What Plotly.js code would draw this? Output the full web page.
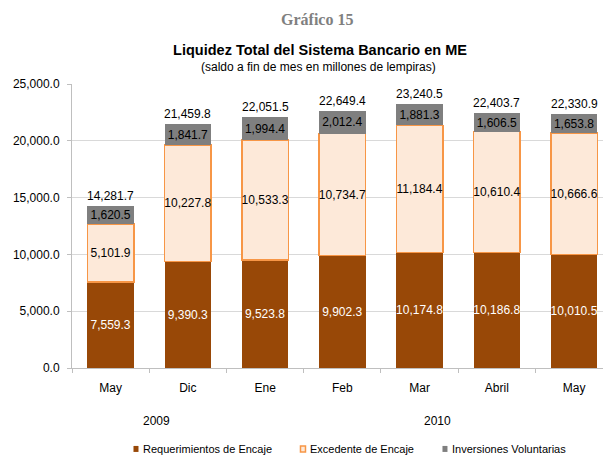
<!DOCTYPE html>
<html>
<head>
<meta charset="utf-8">
<script src="https://cdn.plot.ly/plotly-3.0.1.min.js"></script>
<style>html,body{margin:0;padding:0;background:#fff;}#chart{width:603px;height:456px;}</style>
</head>
<body>
<div id="chart"></div>
<script>
const categories = ['May', 'Dic', 'Ene', 'Feb', 'Mar', 'Abril', 'May'];
const categoryKeys = ['May 2009', 'Dic 2009', 'Ene 2010', 'Feb 2010', 'Mar 2010', 'Abril 2010', 'May 2010'];
const seriesNames = ['Requerimientos de Encaje', 'Excedente de Encaje', 'Inversiones Voluntarias'];
const requerimientos = [7559.3, 9390.3, 9523.8, 9902.3, 10174.8, 10186.8, 10010.5];
const excedente = [5101.9, 10227.8, 10533.3, 10734.7, 11184.4, 10610.4, 10666.6];
const inversiones = [1620.5, 1841.7, 1994.4, 2012.4, 1881.3, 1606.5, 1653.8];
const totals = [14281.7, 21459.8, 22051.5, 22649.4, 23240.5, 22403.7, 22330.9];
const yearLabels = ['2009', '2010'];
const yTicks = [0, 5000, 10000, 15000, 20000, 25000];

const FONT = 'Liberation Sans, Arial, sans-serif';
const common = {
  type: 'bar',
  x: categoryKeys,
  textposition: 'inside',
  insidetextanchor: 'middle',
  constraintext: 'none',
  textangle: 0,
  texttemplate: '%{y:,.1f}',
  hoverinfo: 'skip',
  showlegend: false
};

const traces = [
  Object.assign({}, common, {
    y: requerimientos, name: seriesNames[0],
    marker: {color: '#984807', line: {width: 0}},
    textfont: {family: FONT, size: 12, color: '#ffffff'}
  }),
  Object.assign({}, common, {
    y: excedente, name: seriesNames[1],
    marker: {color: '#FDE9D9', line: {width: 1.5, color: '#F79646'}},
    textfont: {family: FONT, size: 12, color: '#000000'}
  }),
  Object.assign({}, common, {
    y: inversiones, name: seriesNames[2],
    marker: {color: '#7F7F7F', line: {width: 0}},
    textfont: {family: FONT, size: 12, color: '#000000'}
  })
];

const annotations = [];
categoryKeys.forEach((k, i) => {
  annotations.push({
    x: k, y: totals[i], xref: 'x', yref: 'y',
    text: totals[i].toLocaleString('en-US', {minimumFractionDigits: 1, maximumFractionDigits: 1}),
    showarrow: false, yanchor: 'bottom', yshift: 1,
    font: {family: FONT, size: 12, color: '#000'}
  });
});
annotations.push(
  {xref: 'paper', yref: 'paper', x: 0.4623, y: 1.2254, text: '<b>Gráfico 15</b>', showarrow: false,
   xanchor: 'center', yanchor: 'middle', font: {family: 'Liberation Serif, Times New Roman, serif', size: 16, color: '#808080'}},
  {xref: 'paper', yref: 'paper', x: 0.4633, y: 1.0599, text: '(saldo a fin de mes en millones de lempiras)', showarrow: false,
   xanchor: 'center', yanchor: 'middle', font: {family: FONT, size: 12, color: '#000'}},
  {xref: 'paper', yref: 'paper', x: 0.160, y: -0.1866, text: yearLabels[0], showarrow: false,
   xanchor: 'center', yanchor: 'middle', font: {family: FONT, size: 12, color: '#000'}},
  {xref: 'paper', yref: 'paper', x: 0.689, y: -0.1866, text: yearLabels[1], showarrow: false,
   xanchor: 'center', yanchor: 'middle', font: {family: FONT, size: 12, color: '#000'}}
);

const legendTextX = [0.1299, 0.4444, 0.7119];
const legendSqX = [0.1205, 0.4350, 0.7024];
const legendY = -0.285;
const shapes = [];
const sqStyles = [
  {fillcolor: '#984807', line: {width: 0}},
  {fillcolor: '#FDE9D9', line: {width: 1.5, color: '#F79646'}},
  {fillcolor: '#7F7F7F', line: {width: 0}}
];
seriesNames.forEach((n, i) => {
  annotations.push({xref: 'paper', yref: 'paper', x: legendTextX[i], y: legendY, text: n, showarrow: false,
    xanchor: 'left', yanchor: 'middle', font: {family: FONT, size: 11, color: '#000'}});
  shapes.push(Object.assign({type: 'rect', xref: 'paper', yref: 'paper',
    xsizemode: 'pixel', ysizemode: 'pixel', xanchor: legendSqX[i], yanchor: legendY,
    x0: -2.5, x1: 2.5, y0: -3, y1: 3}, sqStyles[i]));
});

const layout = {
  width: 603, height: 456,
  margin: {l: 72, r: 0, t: 84, b: 88},
  paper_bgcolor: '#fff', plot_bgcolor: '#fff',
  barmode: 'stack', bargap: 0.4,
  font: {family: FONT, size: 12, color: '#000'},
  title: {text: '<b>Liquidez Total del Sistema Bancario en ME</b>', xref: 'container', x: 0.5307, xanchor: 'center',
          yref: 'container', y: 1 - 49.5 / 456, yanchor: 'middle', font: {family: FONT, size: 14.5, color: '#000'}},
  xaxis: {
    type: 'category', range: [-0.5, 6.374],
    tickmode: 'array', tickvals: categoryKeys, ticktext: categories,
    tickson: 'boundaries', ticks: 'outside', ticklen: 4, tickcolor: '#BFBFBF',
    showline: true, linecolor: '#BFBFBF', linewidth: 1, showgrid: false, zeroline: false,
    ticklabelstandoff: 9, tickfont: {family: FONT, size: 12, color: '#000'}, fixedrange: true
  },
  yaxis: {
    range: [0, 25000], tickmode: 'array', tickvals: yTicks, tickformat: ',.1f',
    ticks: 'outside', ticklen: 4, tickcolor: '#BFBFBF',
    showline: true, linecolor: '#BFBFBF', linewidth: 1,
    showgrid: true, gridcolor: '#D9D9D9', gridwidth: 1, zeroline: false,
    ticklabelstandoff: 5, tickfont: {family: FONT, size: 12, color: '#000'}, fixedrange: true
  },
  annotations: annotations,
  shapes: shapes
};

Plotly.newPlot('chart', traces, layout, {displayModeBar: false, staticPlot: true});
</script>
</body>
</html>
